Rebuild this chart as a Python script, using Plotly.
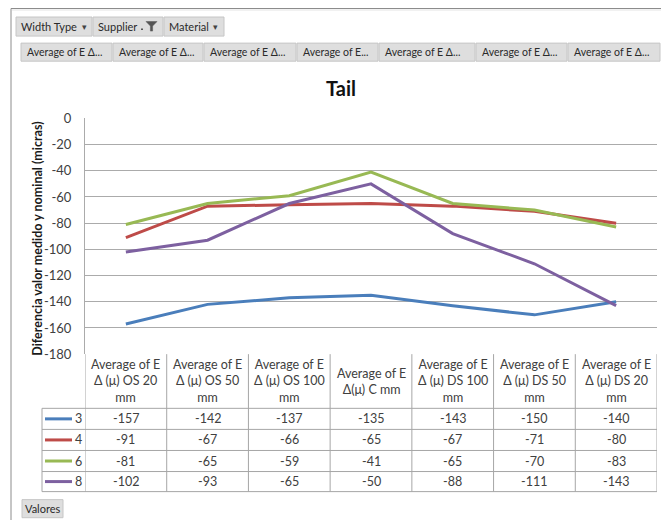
import plotly.graph_objects as go

# ---------------- data ----------------
categories = ["OS 20 mm", "OS 50 mm", "OS 100 mm", "C mm", "DS 100 mm", "DS 50 mm", "DS 20 mm"]
header_labels = [
    "Average of E<br>Δ (μ) OS 20<br>mm",
    "Average of E<br>Δ (μ) OS 50<br>mm",
    "Average of E<br>Δ (μ) OS 100<br>mm",
    "Average of E<br>Δ(μ) C mm",
    "Average of E<br>Δ (μ) DS 100<br>mm",
    "Average of E<br>Δ (μ) DS 50<br>mm",
    "Average of E<br>Δ (μ) DS 20<br>mm",
]
series_names = ["3", "4", "6", "8"]
s3 = [-157, -142, -137, -135, -143, -150, -140]
s4 = [-91, -67, -66, -65, -67, -71, -80]
s6 = [-81, -65, -59, -41, -65, -70, -83]
s8 = [-102, -93, -65, -50, -88, -111, -143]
series_values = [s3, s4, s6, s8]
series_colors = ["#4A7EBB", "#BE4B48", "#98B954", "#7D60A0"]
y_tickvals = [0, -20, -40, -60, -80, -100, -120, -140, -160, -180]
y_ticktext = ["0", "-20", "-40", "-60", "-80", "-100", "-120", "-140", "-160", "-180"]
pivot_fields = ["Width Type", "Supplier", "Material"]
value_buttons = ["Average of E Δ...", "Average of E Δ...", "Average of E Δ...", "Average of E...",
                 "Average of E Δ...", "Average of E Δ...", "Average of E Δ..."]
title_text = "Tail"
y_title = "Diferencia valor medido y nominal (micras)"

# ---------------- layout helpers ----------------
W, H = 661, 520
TOP, VSCALE = 8, 0.966  # observed vertical placement of the figure in the photographed page
FONT = "Lato"
def px(p):
    return p / W
def py(p):
    return 1 - (p - TOP) / VSCALE / H

PLOT_L, PLOT_R, PLOT_T, PLOT_B = 85, 657, 118, 353
GRID = "#ababab"
TEXT = "#404040"

fig = go.Figure()
for name, vals, col in zip(series_names, series_values, series_colors):
    fig.add_trace(go.Scatter(x=categories, y=vals, name=name, mode="lines",
                             line=dict(color=col, width=3), showlegend=False))

shapes = []
annotations = []

# outer frame
shapes.append(dict(type="line", xref="paper", yref="paper", x0=px(11), x1=px(11), y0=py(8.5), y1=py(540),
                   line=dict(color="#8c8c8c", width=1)))
shapes.append(dict(type="line", xref="paper", yref="paper", x0=px(11), x1=px(661), y0=py(8.5), y1=py(8.5),
                   line=dict(color="#8c8c8c", width=1)))
shapes.append(dict(type="line", xref="paper", yref="paper", x0=px(12), x1=px(661), y0=py(10), y1=py(10),
                   line=dict(color="#e4e4e4", width=1)))

def button(x0, x1, y0, y1):
    shapes.append(dict(type="rect", xref="paper", yref="paper", x0=px(x0), x1=px(x1), y0=py(y1), y1=py(y0),
                       fillcolor="#dedede", line=dict(color="#c6c6c6", width=1), layer="below"))

# pivot field buttons
field_pos = [(16, 92), (93, 163), (164, 224)]
for (x0, x1), name in zip(field_pos, pivot_fields):
    button(x0, x1, 17, 36)
    annotations.append(dict(xref="paper", yref="paper", x=px(x0 + 3), y=py(26.5), text=name,
                            showarrow=False, xanchor="left", yanchor="middle",
                            font=dict(family=FONT, size=11, color="#2a2a2a")))
for xa in (84, 215):
    annotations.append(dict(xref="paper", yref="paper", x=px(xa), y=py(26.5), text="▾",
                            showarrow=False, xanchor="center", yanchor="middle",
                            font=dict(family="DejaVu Sans", size=9, color="#444444")))
shapes.append(dict(type="path", xref="paper", yref="paper",
                   path="M {a},{b} L {c},{b} L {d},{e} L {d},{f} L {g},{f} L {g},{e} Z".format(
                       a=px(146), b=py(21.5), c=px(157), d=px(152.6), e=py(26), f=py(31), g=px(150.4)),
                   fillcolor="#555555", line=dict(color="#555555", width=0.5)))
shapes.append(dict(type="rect", xref="paper", yref="paper", x0=px(141), x1=px(143), y0=py(30), y1=py(28.5),
                   fillcolor="#555555", line=dict(width=0)))

# value field buttons
value_pos = [(21, 112), (113, 203), (204, 296), (297, 378), (379, 475), (476, 567), (568, 660)]
for (x0, x1), name in zip(value_pos, value_buttons):
    button(x0, x1, 43, 61)
    annotations.append(dict(xref="paper", yref="paper", x=px(x0 + 4), y=py(52), text=name,
                            showarrow=False, xanchor="left", yanchor="middle",
                            font=dict(family=FONT, size=10.5, color="#2a2a2a")))

# Valores button
button(22, 63, 498, 516)
annotations.append(dict(xref="paper", yref="paper", x=px(42.5), y=py(507), text="Valores",
                        showarrow=False, xanchor="center", yanchor="middle",
                        font=dict(family=FONT, size=11, color="#2a2a2a")))

# ---------------- data table ----------------
TBL_TOP, HDR_BOT = 353, 407
ROW_EDGES = [407, 428, 449, 470, 490]
LEG_L = 42
TBL_LINE = dict(color="#a6a6a6", width=1)
n = len(categories)
for i in range(n + 1):
    shapes.append(dict(type="line", xref="x", yref="paper", x0=i - 0.5, x1=i - 0.5,
                       y0=py(TBL_TOP), y1=py(ROW_EDGES[-1]), line=TBL_LINE))
shapes.append(dict(type="line", xref="paper", yref="paper", x0=px(LEG_L), x1=px(LEG_L),
                   y0=py(ROW_EDGES[0]), y1=py(ROW_EDGES[-1]), line=TBL_LINE))
for yy in ROW_EDGES:
    shapes.append(dict(type="line", xref="paper", yref="paper", x0=px(LEG_L), x1=px(PLOT_R),
                       y0=py(yy), y1=py(yy), line=TBL_LINE))

for cat, lab in zip(categories, header_labels):
    annotations.append(dict(xref="x", yref="paper", x=cat, y=py((TBL_TOP + HDR_BOT) / 2), text=lab,
                            showarrow=False, xanchor="center", yanchor="middle", align="center",
                            font=dict(family=FONT, size=12.5, color=TEXT)))
for r, (name, vals, col) in enumerate(zip(series_names, series_values, series_colors)):
    yc = (ROW_EDGES[r] + ROW_EDGES[r + 1]) / 2
    shapes.append(dict(type="line", xref="paper", yref="paper", x0=px(45), x1=px(72),
                       y0=py(yc), y1=py(yc), line=dict(color=col, width=3)))
    annotations.append(dict(xref="paper", yref="paper", x=px(83.5), y=py(yc), text=name,
                            showarrow=False, xanchor="right", yanchor="middle",
                            font=dict(family=FONT, size=12.5, color=TEXT)))
    for cat, v in zip(categories, vals):
        annotations.append(dict(xref="x", yref="paper", x=cat, y=py(yc), text=str(v),
                                showarrow=False, xanchor="center", yanchor="middle",
                                font=dict(family=FONT, size=12.5, color=TEXT)))

annotations.append(dict(xref="paper", yref="paper", x=px(38), y=py(238), text="<b>%s</b>" % y_title,
                        textangle=-90, showarrow=False, xanchor="center", yanchor="middle",
                        font=dict(family=FONT, size=12.5, color="#1a1a1a")))

fig.update_layout(
    width=W, height=H,
    margin=dict(l=0, r=0, t=0, b=0),
    paper_bgcolor="white", plot_bgcolor="white",
    title=dict(text="<b>%s</b>" % title_text, x=px(341), y=py(94), xanchor="center", yanchor="middle",
               font=dict(family=FONT, size=20, color="#111111")),
    xaxis=dict(domain=[px(PLOT_L), px(PLOT_R)], type="category", categoryarray=categories,
               range=[-0.5, n - 0.5], showticklabels=False, showgrid=False, zeroline=False,
               showline=False, ticks=""),
    yaxis=dict(domain=[py(PLOT_B), py(PLOT_T)], range=[-180, 0], tickvals=y_tickvals, ticktext=y_ticktext,
               showgrid=True, gridcolor=GRID, gridwidth=1, zeroline=False,
               showline=True, linecolor=GRID, linewidth=1,
               ticks="outside", ticklen=10, tickcolor="rgba(0,0,0,0)",
               tickfont=dict(family=FONT, size=13, color=TEXT)),
    shapes=shapes, annotations=annotations,
    showlegend=False,
)

post = (
    "document.documentElement.style.margin='0';"
    "document.body.style.margin='0';document.body.style.padding='0';"
)
fig.write_html("out.html", config={"displayModeBar": False}, post_script=post)
